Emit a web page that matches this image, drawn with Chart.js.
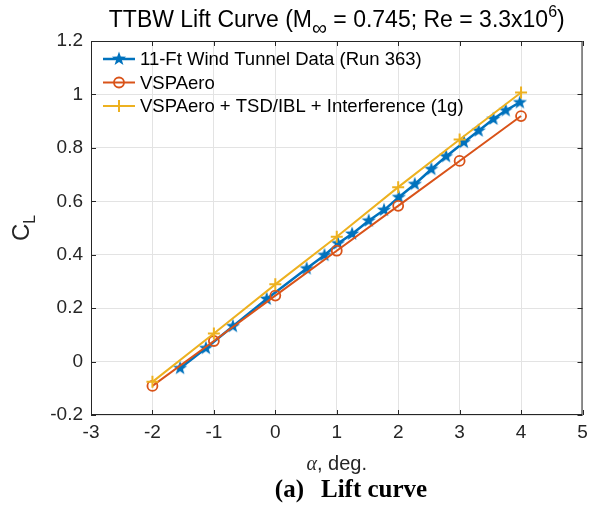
<!DOCTYPE html>
<html lang="en">
<head>
    <meta charset="UTF-8">
    <title>TTBW Lift Curve</title>
    <script src="https://cdn.jsdelivr.net/npm/chart.js"></script>
    <style>
        body { margin: 0; background: #fff; }
    </style>
</head>
<body>
    <canvas id="liftChart" width="592" height="508"></canvas>

    <script>
        // wind tunnel data (run 363)
        const alphaWT = [-1.55, -1.13, -0.69, -0.14, 0.51, 0.80, 1.02, 1.25, 1.52, 1.77, 2.01, 2.27, 2.54, 2.78, 3.07, 3.31, 3.55, 3.75, 3.98];
        const clWT = [-0.025, 0.050, 0.132, 0.234, 0.348, 0.398, 0.442, 0.478, 0.527, 0.567, 0.615, 0.664, 0.720, 0.768, 0.821, 0.864, 0.908, 0.940, 0.970];

        // VSPAero runs
        const alphaVSP = [-2, -1, 0, 1, 2, 3, 4];
        const clVSP = [-0.091, 0.077, 0.247, 0.415, 0.583, 0.751, 0.919];
        const clVSPCorr = [-0.076, 0.105, 0.289, 0.467, 0.653, 0.831, 1.007];

        const seriesNames = ['11-Ft Wind Tunnel Data (Run 363)', 'VSPAero', 'VSPAero + TSD/IBL + Interference (1g)'];
        const xTicks = [-3, -2, -1, 0, 1, 2, 3, 4, 5];
        const yTicks = [-0.2, 0, 0.2, 0.4, 0.6, 0.8, 1, 1.2];

        const BLUE = '#0072BD', ORANGE = '#D95319', YELLOW = '#EDB120';
        const INK = '#262626';
        const FONT = '"Liberation Sans", Arial, Helvetica, sans-serif';

        // filled pentagram marker like matlab's
        function makeStar(color, size) {
            const c = document.createElement('canvas');
            c.width = size; c.height = size;
            const g = c.getContext('2d');
            const cx = size / 2, cy = size / 2, ro = size / 2 - 0.5, ri = ro * 0.4;
            g.beginPath();
            for (let i = 0; i < 10; i++) {
                const r = i % 2 ? ri : ro;
                const a = -Math.PI / 2 + i * Math.PI / 5;
                g.lineTo(cx + r * Math.cos(a), cy + r * Math.sin(a));
            }
            g.closePath();
            g.fillStyle = color;
            g.fill();
            return c;
        }
        const star = makeStar(BLUE, 16);

        const toXY = (xs, ys) => xs.map((x, i) => ({ x: x, y: ys[i] }));

        // text runs with sub/superscripts
        function drawRuns(ctx, runs, x, y, align) {
            let total = 0;
            runs.forEach(r => { ctx.font = r.font; total += ctx.measureText(r.t).width; });
            let cur = align === 'center' ? x - total / 2 : x;
            ctx.textAlign = 'left';
            ctx.textBaseline = 'alphabetic';
            runs.forEach(r => {
                ctx.font = r.font;
                ctx.fillText(r.t, cur, y + (r.dy || 0));
                cur += ctx.measureText(r.t).width;
            });
        }

        const decorations = {
            id: 'decorations',
            afterDraw(chart) {
                const ctx = chart.ctx;
                const a = chart.chartArea;
                const xs = chart.scales.x, ys = chart.scales.y;
                ctx.save();
                ctx.fillStyle = INK;
                ctx.strokeStyle = INK;

                // box + inward ticks
                ctx.lineWidth = 1;
                ctx.strokeRect(a.left + 0.5, a.top + 0.5, a.right - a.left - 1, a.bottom - a.top - 1);
                ctx.beginPath();
                xTicks.forEach(v => {
                    const px = Math.round(xs.getPixelForValue(v)) + 0.5;
                    ctx.moveTo(px, a.bottom); ctx.lineTo(px, a.bottom - 5);
                    ctx.moveTo(px, a.top); ctx.lineTo(px, a.top + 5);
                });
                yTicks.forEach(v => {
                    const py = Math.round(ys.getPixelForValue(v)) + 0.5;
                    ctx.moveTo(a.left, py); ctx.lineTo(a.left + 5, py);
                    ctx.moveTo(a.right, py); ctx.lineTo(a.right - 5, py);
                });
                ctx.stroke();

                const mid = (a.left + a.right) / 2;

                // title
                ctx.fillStyle = '#000';
                drawRuns(ctx, [
                    { t: 'TTBW Lift Curve (M', font: '23px ' + FONT },
                    { t: '\u221E', font: '21px ' + FONT, dy: 8 },
                    { t: ' = 0.745; Re = 3.3x10', font: '23px ' + FONT },
                    { t: '6', font: '16px ' + FONT, dy: -10 },
                    { t: ')', font: '23px ' + FONT }
                ], mid, 27, 'center');

                // x label
                ctx.fillStyle = INK;
                drawRuns(ctx, [
                    { t: '\u03B1', font: 'italic 20px "Liberation Serif", serif' },
                    { t: ', deg.', font: '20px ' + FONT }
                ], mid, 470, 'center');

                // y label, rotated
                ctx.save();
                ctx.translate(29, (a.top + a.bottom) / 2);
                ctx.rotate(-Math.PI / 2);
                drawRuns(ctx, [
                    { t: 'C', font: '24px ' + FONT },
                    { t: 'L', font: '16px ' + FONT, dy: 6 }
                ], 0, 0, 'center');
                ctx.restore();

                // caption under the figure
                ctx.fillStyle = '#000';
                ctx.textAlign = 'left';
                ctx.font = 'bold 25px "Liberation Serif", "Times New Roman", serif';
                const capA = '(a)', capB = 'Lift curve', gap = 17;
                const wA = ctx.measureText(capA).width, wB = ctx.measureText(capB).width;
                const cx0 = 351 - (wA + gap + wB) / 2;
                ctx.fillText(capA, cx0, 497);
                ctx.fillText(capB, cx0 + wA + gap, 497);

                // legend (no box)
                const rows = chart.data.datasets;
                rows.forEach((ds, i) => {
                    const y = 59 + i * 23.5;
                    ctx.strokeStyle = ds.borderColor;
                    ctx.lineWidth = ds.borderWidth;
                    ctx.beginPath();
                    ctx.moveTo(103, y); ctx.lineTo(135, y);
                    ctx.stroke();
                    const mx = 119;
                    if (ds.pointStyle === star) {
                        ctx.drawImage(star, mx - 8, y - 8);
                    } else if (ds.pointStyle === 'circle') {
                        ctx.lineWidth = ds.pointBorderWidth;
                        ctx.beginPath();
                        ctx.arc(mx, y, ds.pointRadius, 0, Math.PI * 2);
                        ctx.stroke();
                    } else {
                        ctx.lineWidth = ds.pointBorderWidth;
                        ctx.beginPath();
                        ctx.moveTo(mx - ds.pointRadius, y); ctx.lineTo(mx + ds.pointRadius, y);
                        ctx.moveTo(mx, y - ds.pointRadius); ctx.lineTo(mx, y + ds.pointRadius);
                        ctx.stroke();
                    }
                    ctx.fillStyle = '#000';
                    ctx.font = '18.5px ' + FONT;
                    ctx.textAlign = 'left';
                    ctx.textBaseline = 'middle';
                    ctx.fillText(ds.label, 140, y + 1);
                });
                ctx.restore();
            }
        };

        new Chart(document.getElementById('liftChart').getContext('2d'), {
            type: 'line',
            data: {
                datasets: [
                    {
                        label: seriesNames[0],
                        data: toXY(alphaWT, clWT),
                        borderColor: BLUE,
                        backgroundColor: BLUE,
                        borderWidth: 2.5,
                        pointStyle: star,
                        pointRadius: 7,
                        order: 3
                    },
                    {
                        label: seriesNames[1],
                        data: toXY(alphaVSP, clVSP),
                        borderColor: ORANGE,
                        backgroundColor: 'rgba(0,0,0,0)',
                        borderWidth: 2,
                        pointStyle: 'circle',
                        pointRadius: 5,
                        pointBorderWidth: 1.8,
                        order: 2
                    },
                    {
                        label: seriesNames[2],
                        data: toXY(alphaVSP, clVSPCorr),
                        borderColor: YELLOW,
                        backgroundColor: YELLOW,
                        borderWidth: 2,
                        pointStyle: 'cross',
                        pointRadius: 6,
                        pointBorderWidth: 2,
                        order: 1
                    }
                ]
            },
            options: {
                responsive: false,
                animation: false,
                events: [],
                layout: { padding: { top: 41, right: -0.5, left: 0, bottom: 0 } },
                plugins: {
                    legend: { display: false },
                    title: { display: false },
                    tooltip: { enabled: false }
                },
                scales: {
                    x: {
                        type: 'linear',
                        min: -3,
                        max: 5,
                        afterBuildTicks: s => { s.ticks = xTicks.map(v => ({ value: v })); },
                        afterFit: s => { s.height = 93; s.paddingLeft = 0; s.paddingRight = 0; },
                        border: { display: false },
                        grid: { color: '#e3e3e3', drawTicks: false },
                        ticks: { color: INK, padding: 6, font: { family: FONT, size: 19 }, maxRotation: 0,
                                 callback: v => String(v) }
                    },
                    y: {
                        min: -0.2,
                        max: 1.2,
                        afterBuildTicks: s => { s.ticks = yTicks.map(v => ({ value: v })); },
                        afterFit: s => { s.width = 91; s.paddingTop = 0; s.paddingBottom = 0; },
                        border: { display: false },
                        grid: { color: '#e3e3e3', drawTicks: false },
                        ticks: { color: INK, padding: 8, font: { family: FONT, size: 19 },
                                 callback: v => String(Math.round(v * 10) / 10) }
                    }
                }
            },
            plugins: [decorations]
        });
    </script>
</body>
</html>
